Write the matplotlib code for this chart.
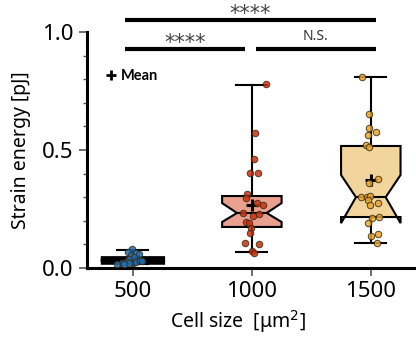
import matplotlib
matplotlib.use("Agg")
import matplotlib.pyplot as plt
from matplotlib.ticker import MultipleLocator

plt.rcParams['font.family'] = ['Noto Sans', 'DejaVu Sans']

# ---- data ----
sizes = [500, 1000, 1500]
tick_labels = ["500", "1000", "1500"]

# box statistics
q1 = [0.024, 0.174, 0.216]
med = [0.032, 0.233, 0.300]
q3 = [0.040, 0.305, 0.517]
whislo = [0.015, 0.068, 0.105]
whishi = [0.075, 0.775, 0.810]
cilo = [0.028, 0.195, 0.190]
cihi = [0.036, 0.275, 0.394]
means = [0.035, 0.267, 0.373]

# individual points
pts500_x = [498, 478, 515, 525, 490, 505, 485, 470, 455, 435, 500, 515, 528, 482, 462, 540]
pts500_y = [0.080, 0.068, 0.063, 0.060, 0.055, 0.047, 0.038, 0.025, 0.020, 0.017, 0.020, 0.025, 0.034, 0.022, 0.018, 0.028]

pts1000_x = [1059, 1013, 1008, 992, 1025, 979, 975, 1021, 1046, 962, 1004, 1029, 975, 988, 996, 992, 971, 1029, 1000, 1008]
pts1000_y = [0.780, 0.572, 0.462, 0.403, 0.403, 0.315, 0.297, 0.276, 0.267, 0.233, 0.220, 0.229, 0.195, 0.191, 0.170, 0.149, 0.106, 0.102, 0.072, 0.064]

pts1500_x = [1462, 1492, 1492, 1521, 1487, 1479, 1492, 1529, 1492, 1458, 1483, 1496, 1487, 1496, 1529, 1504, 1534, 1487, 1500, 1529, 1525]
pts1500_y = [0.810, 0.653, 0.594, 0.576, 0.563, 0.521, 0.512, 0.377, 0.360, 0.300, 0.300, 0.305, 0.288, 0.267, 0.275, 0.212, 0.216, 0.190, 0.136, 0.144, 0.106]

box_faces = ["#2d7bbf", "#e9a08f", "#f2d59c"]
pt_faces = ["#1f6fb4", "#cc3010", "#e6a52e"]

fig = plt.figure(figsize=(4.16, 3.38), dpi=100)
ax = fig.add_axes([87/416, 70/338, 329/416, 236/338])

stats = []
for i in range(3):
    stats.append(dict(med=med[i], q1=q1[i], q3=q3[i], whislo=whislo[i], whishi=whishi[i],
                      cilo=cilo[i], cihi=cihi[i], mean=means[i], fliers=[]))

bp = ax.bxp(stats, positions=sizes, widths=250, shownotches=True, patch_artist=True,
            showmeans=True, showfliers=False, manage_ticks=False,
            boxprops=dict(linewidth=1.5, edgecolor='black'),
            medianprops=dict(color='black', linewidth=1.5),
            whiskerprops=dict(color='black', linewidth=1.5),
            capprops=dict(color='black', linewidth=1.5),
            meanprops=dict(marker='+', markeredgecolor='black', markersize=9, markeredgewidth=2.2),
            capwidths=130)
for patch, c in zip(bp['boxes'], box_faces):
    patch.set_facecolor(c)
bp['boxes'][0].set_linewidth(3.5)
bp['boxes'][0].set_facecolor('black')

for xs, ys, c in [(pts500_x, pts500_y, pt_faces[0]), (pts1000_x, pts1000_y, pt_faces[1]),
                  (pts1500_x, pts1500_y, pt_faces[2])]:
    ax.scatter(xs, ys, s=22, facecolor=c, edgecolor='#3a2a10', linewidth=0.7, alpha=0.85, zorder=5)

ax.set_xlim(307, 1690)
ax.set_ylim(0, 1.0)
ax.set_xticks(sizes)
ax.set_xticklabels(tick_labels)
ax.set_yticks([0, 0.5, 1.0])
ax.set_yticklabels(["0.0", "0.5", "1.0"])
ax.yaxis.set_minor_locator(MultipleLocator(0.1))
ax.tick_params(axis='both', which='major', labelsize=16, width=1.2, length=6, color='#555555')
ax.tick_params(axis='y', which='minor', width=1, length=3, color='#555555')
for s in ['top', 'right']:
    ax.spines[s].set_visible(False)
for s in ['left', 'bottom']:
    ax.spines[s].set_linewidth(2.2)

ax.set_ylabel("Strain energy [pJ]", fontsize=14)
ax.set_xlabel("Cell size  [μm$^2$]", fontsize=14)
ax.xaxis.set_label_coords((238-87)/329, -0.17)
ax.yaxis.set_label_coords(-0.17, 0.5)

# significance bars
ax.plot([465, 1520], [1.05, 1.05], color='black', lw=3, clip_on=False, solid_capstyle='butt')
ax.plot([465, 972], [0.928, 0.928], color='black', lw=3, clip_on=False, solid_capstyle='butt')
ax.plot([1016, 1520], [0.928, 0.928], color='black', lw=3, clip_on=False, solid_capstyle='butt')
ax.text(993, 1.035, "****", ha='center', va='bottom', fontsize=15, color='#444444', family='DejaVu Sans')
ax.text(718, 0.913, "****", ha='center', va='bottom', fontsize=15, color='#444444', family='DejaVu Sans')
ax.text(1268, 0.948, "N.S.", ha='center', va='bottom', fontsize=10, color='#333333')

ax.plot([], [], '+', color='black', markersize=7, markeredgewidth=2, label='Mean')
ax.legend(loc='upper left', bbox_to_anchor=(0.02, 0.90), frameon=False, handlelength=0.6,
          handletextpad=0.4, prop=dict(weight='bold', size=10.5, family='Lato'))

fig.savefig("out.png", dpi=100)
